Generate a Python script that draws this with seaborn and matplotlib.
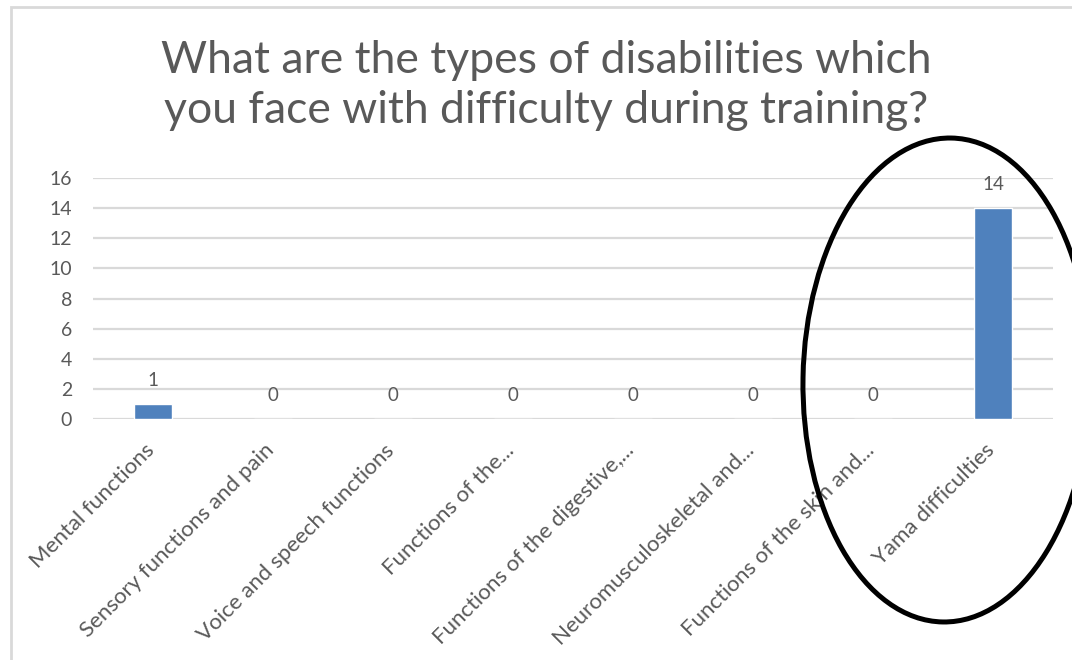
import pandas as pd
import seaborn as sns
import matplotlib.pyplot as plt
import matplotlib.transforms as mtransforms
from matplotlib.patches import Ellipse, Rectangle

# data
categories = ['Mental functions', 'Sensory functions and pain', 'Voice and speech functions',
              'Functions of the...', 'Functions of the digestive,...', 'Neuromusculoskeletal and...',
              'Functions of the skin and...', 'Yama difficulties']
counts = [1, 0, 0, 0, 0, 0, 0, 14]
y_ticks = [0, 2, 4, 6, 8, 10, 12, 14, 16]
title_lines = ['What are the types of disabilities which',
               'you face with difficulty during training?']

df = pd.DataFrame({'category': categories, 'count': counts})

sns.set_style('white')
plt.rcParams['font.family'] = ['Lato', 'DejaVu Sans']
text_col = '#595959'

fig = plt.figure(figsize=(10.72, 6.6), dpi=100)
W, H = 1072, 660
ax = fig.add_axes([93 / W, 1 - 419 / H, 960 / W, (419 - 178) / H])

sns.barplot(data=df, x='category', y='count', color='#4f81bd', width=0.31,
            saturation=1, ax=ax, zorder=3)

ax.set_ylim(0, 16)
ax.set_xlim(-0.5, len(categories) - 0.5)
ax.set_yticks(y_ticks)
ax.yaxis.grid(True, color='#d9d9d9', linewidth=1.6, zorder=0)
ax.set_axisbelow(True)
for s in ax.spines.values():
    s.set_visible(False)
ax.set_xlabel('')
ax.set_ylabel('')
ax.tick_params(axis='y', length=0, pad=15, labelsize=14, labelcolor=text_col)
ax.tick_params(axis='x', length=0, pad=16, labelsize=16, labelcolor=text_col)
shift = mtransforms.ScaledTranslation(-0.09, 0.01, fig.dpi_scale_trans)
for lab in ax.get_xticklabels():
    lab.set_rotation(45)
    lab.set_ha('right')
    lab.set_va('top')
    lab.set_rotation_mode('anchor')
    lab.set_transform(lab.get_transform() + shift)

# value labels
for i, v in enumerate(counts):
    ax.annotate(str(v), (i, v), xytext=(0, 17), textcoords='offset points',
                ha='center', va='center', fontsize=13.5, color=text_col)

for k, line in enumerate(title_lines):
    fig.text(546 / W, 1 - (73 + 50 * k) / H, line, ha='center', va='baseline',
             fontsize=32, color=text_col)

# chart frame
fig.patches.append(Rectangle((11, -20), 1100, 660 - 7 + 20, transform=None,
                             fill=False, edgecolor='#d9d9d9', linewidth=2))

# hand drawn ellipse around the last bar
fig.patches.append(Ellipse((947, 660 - 380), 288, 484, angle=-1, transform=None,
                           fill=False, edgecolor='black', linewidth=3.6, zorder=10))

fig.savefig('out.png', dpi=100)
